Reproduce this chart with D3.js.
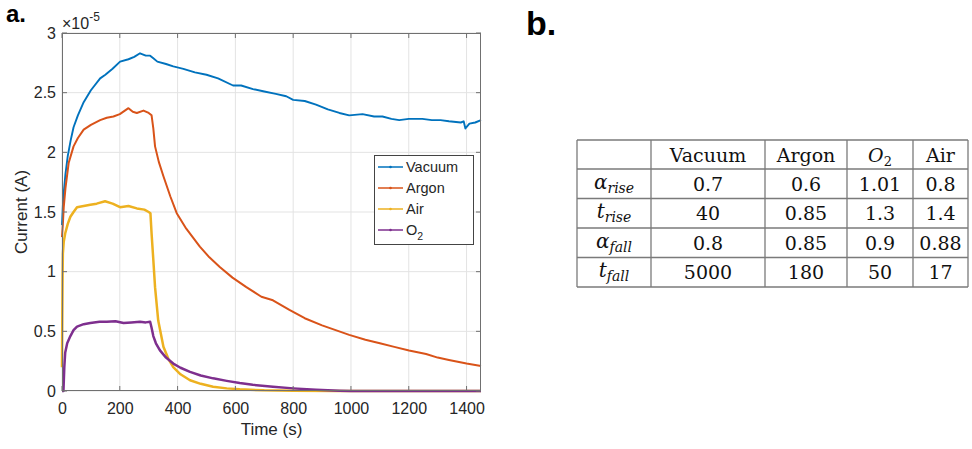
<!DOCTYPE html>
<html><head><meta charset="utf-8">
<script src="https://cdn.jsdelivr.net/npm/d3@7"></script>
<style>body{margin:0;background:#fff}svg{display:block}</style>
</head><body>
<svg id="c" width="972" height="449"></svg>
<script>
// ---- data (current in units of 1e-5 A, time in s) ----
const seriesNames = ["Vacuum", "Argon", "Air", "O2"];
const vacuumT = [0,3,6,12,20,30,40,55,75,100,132,150,175,201,230,250,270,290,305,315,330,360,385,420,460,500,540,592,620,661,700,740,776,800,840,879,920,960,994,1040,1080,1109,1140,1167,1200,1247,1280,1310,1339,1380,1390,1396,1410,1430,1450];
const vacuumV = [1.39,1.55,1.66,1.82,1.97,2.10,2.21,2.31,2.42,2.52,2.62,2.65,2.70,2.76,2.78,2.80,2.83,2.81,2.81,2.79,2.76,2.74,2.72,2.70,2.67,2.65,2.62,2.56,2.56,2.53,2.51,2.49,2.47,2.44,2.43,2.40,2.36,2.33,2.31,2.32,2.30,2.30,2.28,2.27,2.28,2.28,2.27,2.27,2.26,2.25,2.26,2.20,2.24,2.25,2.27];
const argonT = [0,3,6,12,23,40,55,75,100,132,155,178,200,230,245,259,282,300,310,316,322,335,351,375,397,430,477,510,546,590,638,690,730,787,840,900,994,1050,1100,1150,1201,1260,1300,1339,1400,1450];
const argonV = [1.29,1.40,1.54,1.70,1.91,2.05,2.12,2.19,2.23,2.27,2.29,2.30,2.32,2.37,2.34,2.33,2.35,2.33,2.31,2.20,2.05,1.92,1.80,1.63,1.49,1.36,1.21,1.12,1.04,0.95,0.87,0.79,0.76,0.68,0.61,0.55,0.47,0.43,0.40,0.37,0.34,0.31,0.28,0.26,0.23,0.21];
const airT = [0,1,2,3,6,11,20,29,40,52,75,98,120,149,175,201,230,259,285,300,306,310,316,322,333,351,368,385,410,443,480,523,570,615,700,800,950,1450];
const airV = [0.20,0.60,0.95,1.15,1.25,1.32,1.40,1.46,1.50,1.54,1.55,1.56,1.57,1.59,1.57,1.54,1.55,1.53,1.52,1.50,1.49,1.32,1.10,0.87,0.59,0.37,0.27,0.20,0.14,0.09,0.06,0.036,0.022,0.014,0.006,0.002,0,0];
const o2T = [0,5,8,11,18,29,40,52,75,98,130,155,185,213,240,270,290,305,310,316,325,339,360,385,410,443,480,523,570,615,660,730,800,879,960,1000,1450];
const o2V = [0,0,0.20,0.32,0.40,0.46,0.51,0.54,0.56,0.57,0.58,0.58,0.585,0.57,0.575,0.58,0.575,0.58,0.53,0.46,0.40,0.34,0.28,0.23,0.195,0.16,0.13,0.106,0.085,0.067,0.052,0.036,0.022,0.01,0.002,0,0];
const xTicks = [0,200,400,600,800,1000,1200,1400];
const yTicks = [0,0.5,1,1.5,2,2.5,3];
const yTickLabels = ["0","0.5","1","1.5","2","2.5","3"];
const yExponent = "-5";
// table (panel b)
const tableCols = ["Vacuum", "Argon", "O2", "Air"];
const tableRows = [["α","rise"],["t","rise"],["α","fall"],["t","fall"]];
const tableValues = [
  ["0.7","0.6","1.01","0.8"],
  ["40","0.85","1.3","1.4"],
  ["0.8","0.85","0.9","0.88"],
  ["5000","180","50","17"]
];

// ---- drawing ----
const svg = d3.select("#c");
const colors = ["#0072BD","#D95319","#EDB120","#7E2F8E"];
const widths = [1.9,2,2.5,2.5];
const sans = "'Liberation Sans', Arial, Helvetica, sans-serif";
const serif = "'DejaVu Serif', serif";
const L = 62, R = 481, T = 33, B = 391;
const x = d3.scaleLinear().domain([0,1450]).range([L,R]);
const y = d3.scaleLinear().domain([0,3]).range([B,T]);

// grid
const g = svg.append("g");
g.selectAll(".gx").data(xTicks).join("line")
  .attr("x1",d=>x(d)).attr("x2",d=>x(d)).attr("y1",T).attr("y2",B)
  .attr("stroke","#e3e3e3").attr("stroke-width",1);
g.selectAll(".gy").data(yTicks).join("line")
  .attr("x1",L).attr("x2",R).attr("y1",d=>y(d)).attr("y2",d=>y(d))
  .attr("stroke","#e3e3e3").attr("stroke-width",1);

// series
const series = [
  {t:vacuumT, v:vacuumV}, {t:argonT, v:argonV}, {t:airT, v:airV}, {t:o2T, v:o2V}
];
const line = d3.line().x(d=>x(d[0])).y(d=>y(d[1]));
series.forEach((s,i)=>{
  const pts = s.t.map((t,j)=>[t,s.v[j]]);
  svg.append("path").datum(pts).attr("d",line)
    .attr("fill","none").attr("stroke",colors[i]).attr("stroke-width",widths[i])
    .attr("stroke-linejoin","round");
});

// box and inward ticks
const axC = "#707070";
svg.append("rect").attr("x",L+0.5).attr("y",T+0.5).attr("width",R-L-1).attr("height",B-T-1)
  .attr("fill","none").attr("stroke",axC).attr("stroke-width",1);
const tk = svg.append("g").attr("stroke",axC).attr("stroke-width",1);
xTicks.forEach(d=>{
  tk.append("line").attr("x1",x(d)).attr("x2",x(d)).attr("y1",B).attr("y2",B-5);
  tk.append("line").attr("x1",x(d)).attr("x2",x(d)).attr("y1",T).attr("y2",T+5);
});
yTicks.forEach(d=>{
  tk.append("line").attr("x1",L).attr("x2",L+5).attr("y1",y(d)).attr("y2",y(d));
  tk.append("line").attr("x1",R).attr("x2",R-5).attr("y1",y(d)).attr("y2",y(d));
});

// tick labels via d3 axes (no tick lines)
const xa = svg.append("g").attr("transform",`translate(0,${B})`)
  .call(d3.axisBottom(x).tickValues(xTicks).tickSize(0).tickPadding(12).tickFormat(d3.format("d")));
const ya = svg.append("g").attr("transform",`translate(${L},0)`)
  .call(d3.axisLeft(y).tickValues(yTicks).tickSize(0).tickPadding(6).tickFormat((d,i)=>yTickLabels[i]));
[xa,ya].forEach(a=>{
  a.select(".domain").remove();
  a.selectAll("text").attr("font-family",sans).attr("font-size",16).attr("fill","#262626");
});

// axis labels
svg.append("text").attr("x",(L+R)/2).attr("y",435).attr("text-anchor","middle")
  .attr("font-family",sans).attr("font-size",17).attr("fill","#262626").text("Time (s)");
svg.append("text").attr("transform",`translate(27,${(T+B)/2}) rotate(-90)`).attr("text-anchor","middle")
  .attr("font-family",sans).attr("font-size",17).attr("fill","#262626").text("Current (A)");
// exponent
const ex = svg.append("text").attr("x",62).attr("y",28.5).attr("font-family",sans).attr("fill","#262626");
ex.append("tspan").attr("font-size",16).text("×10");
ex.append("tspan").attr("font-size",12).attr("dy",-8).text(yExponent);

// legend
const lg = svg.append("g");
lg.append("rect").attr("x",374.5).attr("y",155.5).attr("width",99).attr("height",89)
  .attr("fill","#fff").attr("stroke","#444").attr("stroke-width",1);
const ly = d3.scalePoint().domain(seriesNames).range([167,230]);
seriesNames.forEach((n,i)=>{
  const yy = ly(n);
  lg.append("line").attr("x1",378).attr("x2",403).attr("y1",yy).attr("y2",yy)
    .attr("stroke",colors[i]).attr("stroke-width",1.5);
  lg.append("circle").attr("cx",390.5).attr("cy",yy).attr("r",1.3).attr("fill",colors[i]);
  const t = lg.append("text").attr("x",406).attr("y",yy+5).attr("font-family",sans)
    .attr("font-size",14.5).attr("fill","#262626");
  if (n === "O2") { t.append("tspan").text("O"); t.append("tspan").attr("font-size",10.5).attr("dy",5).text("2"); }
  else t.text(n);
});

// panel labels
svg.append("text").attr("x",6).attr("y",22).attr("font-family",sans).attr("font-weight","bold")
  .attr("font-size",24).attr("fill","#000").text("a.");
svg.append("text").attr("x",526).attr("y",35).attr("font-family",sans).attr("font-weight","bold")
  .attr("font-size",34).attr("fill","#000").text("b.");

// table
const colEdges = [577,651,765,847,913,968];
const rowEdges = [140,169,198.5,228,257.5,287];
const tb = svg.append("g");
const lc = "#7a7a7a";
colEdges.forEach(cx=>tb.append("line").attr("x1",cx).attr("x2",cx).attr("y1",rowEdges[0]).attr("y2",rowEdges[5])
  .attr("stroke",lc).attr("stroke-width",1.3));
rowEdges.forEach(ry=>tb.append("line").attr("x1",colEdges[0]).attr("x2",colEdges[5]).attr("y1",ry).attr("y2",ry)
  .attr("stroke",lc).attr("stroke-width",1.3));
const cc = i => (colEdges[i]+colEdges[i+1])/2;
const rc = i => (rowEdges[i]+rowEdges[i+1])/2;
tableCols.forEach((c,i)=>{
  const t = tb.append("text").attr("x",cc(i+1)).attr("y",rc(0)+7).attr("text-anchor","middle")
    .attr("font-family",serif).attr("font-size",19).attr("fill","#111");
  if (c === "O2") { t.append("tspan").attr("font-style","italic").text("O"); t.append("tspan").attr("font-size",13).attr("dy",4).text("2"); }
  else t.text(c);
});
tableRows.forEach((r,i)=>{
  const t = tb.append("text").attr("x",cc(0)).attr("y",rc(i+1)+5).attr("text-anchor","middle")
    .attr("font-family",serif).attr("font-style","italic").attr("fill","#111");
  t.append("tspan").attr("font-size",20).text(r[0]);
  t.append("tspan").attr("font-size",14).attr("dy",4).text(r[1]);
  tableValues[i].forEach((v,j)=>{
    tb.append("text").attr("x",cc(j+1)).attr("y",rc(i+1)+7).attr("text-anchor","middle")
      .attr("font-family",serif).attr("font-size",19).attr("fill","#111").text(v);
  });
});
</script>
</body></html>
